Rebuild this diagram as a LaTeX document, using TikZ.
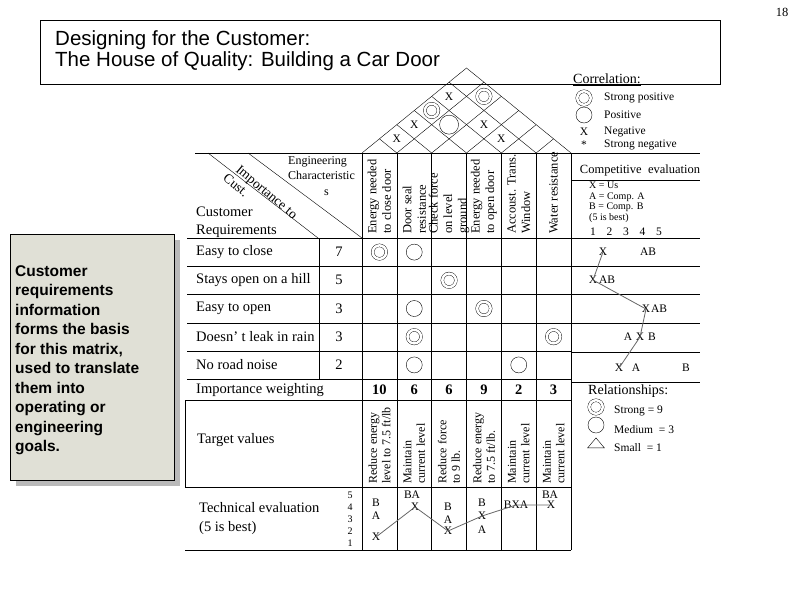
\documentclass[tikz,border=0pt]{standalone}
\usepackage{fontspec}
\setmainfont{Liberation Serif}
\newfontfamily\hqsans{Liberation Sans}
\usetikzlibrary{shapes.geometric}

\begin{document}
\begin{tikzpicture}[x=1pt,y=-1pt,
  every node/.style={inner sep=0pt, font=\fontsize{14.5}{15}\selectfont},
  cell/.style={font=\fontsize{14.5}{15}\selectfont, anchor=west},
  small/.style={font=\fontsize{11.5}{12.5}\selectfont},
  tiny/.style={font=\fontsize{10}{10.5}\selectfont},
  head/.style={rotate=90, anchor=west, align=left, font=\fontsize{12.5}{14.5}\selectfont},
  target/.style={rotate=90, anchor=west, align=left, font=\fontsize{12}{13.5}\selectfont},
  medium/.style={circle, draw, minimum size=16pt},
  strong/.style={circle, draw, double, double distance=2.5pt, minimum size=13.5pt},
  small tri/.style={isosceles triangle, shape border rotate=90, draw, minimum width=16pt, minimum height=10pt, isosceles triangle apex angle=80},
  evalline/.style={draw=gray!80!black, line width=0.8pt}]
\useasboundingbox (0,0) rectangle (800,600);

% title
\draw (40,20) rectangle (720,84);
\node[anchor=north west, align=left, font=\hqsans\fontsize{20.5}{21.5}\selectfont] (title) at (55,30)
  {Designing for the Customer:\\The House of Quality: Building a Car Door};
\node[font=\fontsize{12.5}{14}\selectfont] (page) at (782,12) {18};

% side note
\fill[gray!55] (16,240) rectangle (180,486);
\draw[fill={rgb,255:red,224;green,224;blue,214}] (10,234) rectangle (174,480);
\node[anchor=north west, align=left, font=\hqsans\bfseries\fontsize{15.5}{19.5}\selectfont] (note) at (15,265)
  {Customer\\requirements\\information\\forms the basis\\for this matrix,\\used to translate\\them into\\operating or\\engineering\\goals.};

% roof
\def\slp{0.8134}
\draw (362,153) -- (466.5,68) -- (571,153);
\foreach \k in {1,...,5} {
  \pgfmathsetmacro{\xk}{362+34.8333*\k}
  \pgfmathsetmacro{\xl}{(362+\xk)/2}
  \pgfmathsetmacro{\yl}{153-(\xk-362)/2*\slp}
  \pgfmathsetmacro{\xr}{(\xk+571)/2}
  \pgfmathsetmacro{\yr}{153-(571-\xk)/2*\slp}
  \draw (\xk,153) -- (\xl,\yl);
  \draw (\xk,153) -- (\xr,\yr);
}
\foreach \i/\j/\m [count=\n] in {1/2/X,1/3/X,1/5/X,3/5/X,4/5/X} {
  \pgfmathsetmacro{\cx}{362+34.8333*(\i+\j-1)/2}
  \pgfmathsetmacro{\cy}{153-(\j-\i)*17.4167*\slp}
  \node[small] (roofx\n) at (\cx,\cy) {\m};
}
\foreach \i/\j [count=\n] in {1/4,2/6} {
  \pgfmathsetmacro{\cx}{362+34.8333*(\i+\j-1)/2}
  \pgfmathsetmacro{\cy}{153-(\j-\i)*17.4167*\slp}
  \node[strong] (roofs\n) at (\cx,\cy) {};
}
\pgfmathsetmacro{\cx}{362+34.8333*2.5}
\pgfmathsetmacro{\cy}{153-2*17.4167*\slp}
\node[medium, minimum size=19pt] (roofm) at (\cx,\cy) {};

% correlation legend
\node[anchor=west, font=\fontsize{14}{15}\selectfont] (corr) at (573,80) {\underline{Correlation:}};
\node[strong] (lgs) at (584,98) {};
\node[small, anchor=west] (lgst) at (604,98) {Strong positive};
\node[medium] (lgm) at (584,115) {};
\node[small, anchor=west] (lgmt) at (604,115) {Positive};
\node[small] (lgx) at (584,132) {X};
\node[small, anchor=west] (lgxt) at (604,132) {Negative};
\node[small] (lga) at (584,145) {*};
\node[small, anchor=west] (lgat) at (604,145) {Strong negative};

% grid
\draw (195,153) -- (700,153);
\draw (208,153) -- (318,238);
\draw (248,153) -- (362,238);
\foreach \y in {238,266,294,323,351,379} \draw (187,\y) -- (571,\y);
\draw (571,180) -- (700,180);
\foreach \y in {238,266,294,323,352,382} \draw (571,\y) -- (700,\y);
\draw (185,400) -- (571,400);
\draw (185,487) -- (571,487);
\draw (185,550) -- (571,550);
\draw (185,400) -- (185,487);
\draw (319,238) -- (319,379);
\draw (362,153) -- (362,550);
\foreach \k in {1,...,5} \draw ({362+34.8333*\k},153) -- ({362+34.8333*\k},550);
\draw (571,153) -- (571,550);

% header
\node[font=\fontsize{12}{15.5}\selectfont, align=left, anchor=north west] (engch) at (288,156) {Engineering\\Characteristic\\\hspace*{3em}s};
\node[rotate=-40, font=\fontsize{13.5}{14}\selectfont] (imptc) at (266,193) {Importance to};
\node[rotate=-40, font=\fontsize{13.5}{14}\selectfont] (cust) at (236,185) {Cust.};
\node[cell, align=left, font=\fontsize{14.5}{18}\selectfont] (custreq) at (196,222) {Customer\\Requirements};
\foreach \t [count=\k] in {Energy needed\\to close door, Door seal\\resistance, Check force\\on level\\ground, Energy needed\\to open door, Accoust. Trans.\\Window, Water resistance}
  \node[head] (eng\k) at ({362+34.8333*(\k-0.5)},234) {\t};

% customer requirements
\foreach \t/\w [count=\r] in {Easy to close/7, Stays open on a hill/5, Easy to open/3, Doesn' t leak in rain/3, No road noise/2} {
  \pgfmathsetmacro{\ry}{238+28.2*(\r-0.5)}
  \node[cell] (req\r) at (196,\ry) {\t};
  \node (imp\r) at (339,\ry) {\w};
}

% relationships
\foreach \c/\r/\s [count=\n] in {1/1/strong,2/1/medium,3/2/strong,2/3/medium,4/3/strong,2/4/strong,6/4/strong,2/5/medium,5/5/medium}
  \node[\s] (rel\n) at ({362+34.8333*(\c-0.5)},{238+28.2*(\r-0.5)}) {};

% importance weighting and targets
\node[cell] (impw) at (196,390) {Importance weighting};
\foreach \w [count=\k] in {10,6,6,9,2,3}
  \node[font=\bfseries\fontsize{14.5}{15}\selectfont] (wt\k) at ({362+34.8333*(\k-0.5)},390) {\w};
\node[cell] (tgtv) at (197,440) {Target values};
\foreach \t [count=\k] in {Reduce energy\\level to 7.5 ft/lb, Maintain\\current level, Reduce force\\to 9 lb., Reduce energy\\to 7.5 ft/lb., Maintain\\current level, Maintain\\current level}
  \node[target] (tgt\k) at ({362+34.8333*(\k-0.5)},484) {\t};

% technical evaluation
\node[cell, align=left, font=\fontsize{14.5}{19}\selectfont] (tech) at (199,519) {Technical evaluation\\(5 is best)};
\foreach \v in {1,...,5} \node[tiny] (sc\v) at (350,{543-12*(\v-1)}) {\v};
\node[small] (tb1) at (376,503) {B};
\node[small] (ta1) at (376,516) {A};
\node[small] (tx1) at (376,537) {X};
\node[small] (tba2) at (412,495) {BA};
\node[small] (tx2) at (415,507) {X};
\node[small] (tb3) at (448,507) {B};
\node[small] (ta3) at (448,520) {A};
\node[small] (tx3) at (448,531) {X};
\node[small] (tb4) at (482,503) {B};
\node[small] (tx4) at (482,516) {X};
\node[small] (ta4) at (482,530) {A};
\node[small] (tbxa5) at (516,505) {BXA};
\node[small] (tba6) at (550,495) {BA};
\node[small] (tx6) at (551,505) {X};
\draw[evalline] (tx1.center) -- (tx2.center) -- (tx3.center) -- (tx4.center) -- (tbxa5.center) -- (tx6.center);

% competitive evaluation
\node[font=\fontsize{12.5}{13}\selectfont] (compev) at (640,170) {Competitive\ \ evaluation};
\node[tiny, align=left, anchor=north west] (complg) at (589,182) {X = Us\\A = Comp. A\\B = Comp. B\\(5 is best)};
\foreach \v in {1,...,5} \node[small] (cs\v) at ({593+16.5*(\v-1)},232) {\v};
\node[small] (cx1) at (603,252) {X};
\node[small] (cab1) at (648,252) {AB};
\node[small] (cx2) at (593,280) {X};
\node[small] (cab2) at (607,280) {AB};
\node[small] (cx3) at (646,309) {X};
\node[small] (cab3) at (659,309) {AB};
\node[small] (ca4) at (628,337) {A};
\node[small] (cx4) at (640,337) {X};
\node[small] (cb4) at (652,337) {B};
\node[small] (cx5) at (619,368) {X};
\node[small] (ca5) at (636,368) {A};
\node[small] (cb5) at (686,368) {B};
\draw[evalline] (cx1.center) -- (cx2.center) -- (cx3.center) -- (cx4.center) -- (cx5.center);

% relationships legend
\node[anchor=west, font=\fontsize{14}{15}\selectfont] (rels) at (588,391) {Relationships:};
\node[strong] (rlgs) at (596,407) {};
\node[small, anchor=west] (rlgst) at (614,411) {Strong = 9};
\node[medium] (rlgm) at (596,425) {};
\node[small, anchor=west] (rlgmt) at (614,430) {Medium \ = 3};
\node[small tri] (rlgt) at (596,444) {};
\node[small, anchor=west] (rlgtt) at (614,448) {Small \ = 1};
\end{tikzpicture}
\end{document}
